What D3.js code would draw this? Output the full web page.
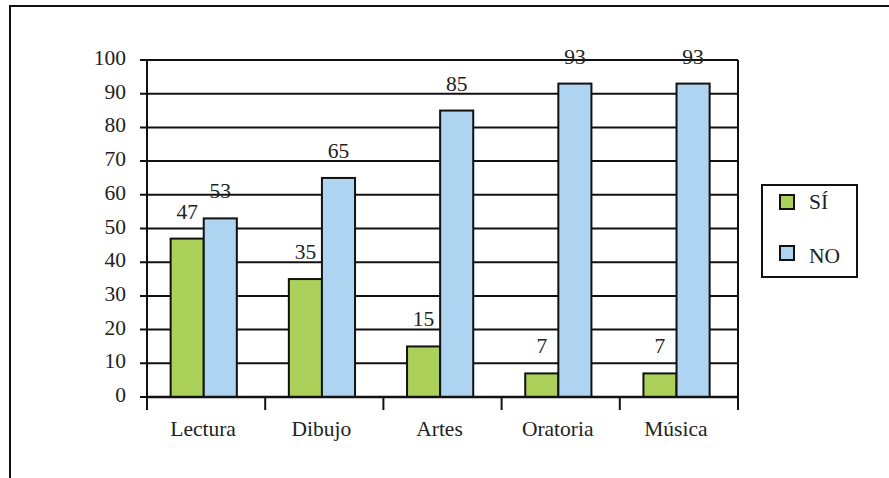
<!DOCTYPE html>
<html>
<head>
<meta charset="utf-8">
<script src="https://cdn.jsdelivr.net/npm/d3@7"></script>
<style>
  body { margin: 0; background: #fff; }
  text { font-family: "Liberation Serif", "Times New Roman", serif; fill: #222; }
</style>
</head>
<body>
<div id="chart"></div>
<script>
// ---- data
var categories = ["Lectura", "Dibujo", "Artes", "Oratoria", "Música"];
var seriesNames = ["SÍ", "NO"];
var siValues = [47, 35, 15, 7, 7];
var noValues = [53, 65, 85, 93, 93];
var yTicks = [0, 10, 20, 30, 40, 50, 60, 70, 80, 90, 100];

var colors = {"SÍ": "#acd15a", "NO": "#aed4f1"};

// ---- layout
var W = 889, H = 478;
var plot = {left: 147, right: 738, top: 60, bottom: 397};
var fontSize = 21.5;

var svg = d3.select("#chart")
  .append("svg")
    .attr("width", W)
    .attr("height", H);

// outer frame (cut by the picture on right and bottom)
svg.append("rect")
    .attr("x", 10).attr("y", 6)
    .attr("width", W + 20).attr("height", H + 20)
    .attr("fill", "none")
    .attr("stroke", "#111")
    .attr("stroke-width", 2);

var x0 = d3.scaleBand()
    .domain(categories)
    .range([plot.left, plot.right]);

var bw = x0.bandwidth();
var x1 = d3.scaleBand()
    .domain(seriesNames)
    .range([bw * 0.2, bw * 0.76]);

var y = d3.scaleLinear()
    .domain([0, 100])
    .range([plot.bottom, plot.top]);

// gridlines + left ticks
svg.append("g")
  .selectAll("line")
  .data(yTicks)
  .join("line")
    .attr("x1", plot.left - 7)
    .attr("x2", plot.right)
    .attr("y1", d => y(d))
    .attr("y2", d => y(d))
    .attr("stroke", "#111")
    .attr("stroke-width", 2);

svg.append("g")
  .selectAll("text")
  .data(yTicks)
  .join("text")
    .attr("x", 126)
    .attr("y", d => y(d) + 5)
    .attr("text-anchor", "end")
    .attr("font-size", fontSize)
    .text(d => d);

// bars
var rows = categories.map((c, i) => ({cat: c, values: [
  {key: "SÍ", value: siValues[i]},
  {key: "NO", value: noValues[i]}
]}));

var groups = svg.append("g")
  .selectAll("g")
  .data(rows)
  .join("g")
    .attr("transform", d => "translate(" + x0(d.cat) + ",0)");

groups.selectAll("rect")
  .data(d => d.values)
  .join("rect")
    .attr("x", d => x1(d.key))
    .attr("y", d => y(d.value))
    .attr("width", x1.bandwidth())
    .attr("height", d => y(0) - y(d.value))
    .attr("fill", d => colors[d.key])
    .attr("stroke", "#111")
    .attr("stroke-width", 2);

groups.selectAll("text")
  .data(d => d.values)
  .join("text")
    .attr("x", d => x1(d.key) + x1.bandwidth() / 2)
    .attr("y", d => y(d.value) - 20)
    .attr("text-anchor", "middle")
    .attr("font-size", fontSize)
    .text(d => d.value);

// axes lines
svg.append("line")
    .attr("x1", plot.left).attr("x2", plot.left)
    .attr("y1", plot.top).attr("y2", plot.bottom + 13)
    .attr("stroke", "#111").attr("stroke-width", 2);
svg.append("line")
    .attr("x1", plot.right).attr("x2", plot.right)
    .attr("y1", plot.top).attr("y2", plot.bottom + 13)
    .attr("stroke", "#111").attr("stroke-width", 2);
svg.append("line")
    .attr("x1", plot.left).attr("x2", plot.right)
    .attr("y1", plot.bottom).attr("y2", plot.bottom)
    .attr("stroke", "#111").attr("stroke-width", 2.5);

// category boundary ticks
svg.append("g")
  .selectAll("line")
  .data(categories.slice(1))
  .join("line")
    .attr("x1", d => x0(d)).attr("x2", d => x0(d))
    .attr("y1", plot.bottom).attr("y2", plot.bottom + 13)
    .attr("stroke", "#111").attr("stroke-width", 2);

svg.append("g")
  .selectAll("text")
  .data(categories)
  .join("text")
    .attr("x", d => x0(d) + bw / 2 - 3)
    .attr("y", 436)
    .attr("text-anchor", "middle")
    .attr("font-size", fontSize)
    .text(d => d);

// legend
var legend = svg.append("g");
legend.append("rect")
    .attr("x", 762).attr("y", 185)
    .attr("width", 95).attr("height", 92)
    .attr("fill", "#fff")
    .attr("stroke", "#111")
    .attr("stroke-width", 2);

var items = legend.selectAll("g")
  .data(seriesNames)
  .join("g")
    .attr("transform", (d, i) => "translate(780," + (195 + i * 51) + ")");

items.append("rect")
    .attr("width", 14).attr("height", 14)
    .attr("fill", d => colors[d])
    .attr("stroke", "#111")
    .attr("stroke-width", 2);

items.append("text")
    .attr("x", 29)
    .attr("y", (d, i) => i === 0 ? 14 : 17)
    .attr("font-size", fontSize)
    .text(d => d);
</script>
</body>
</html>
